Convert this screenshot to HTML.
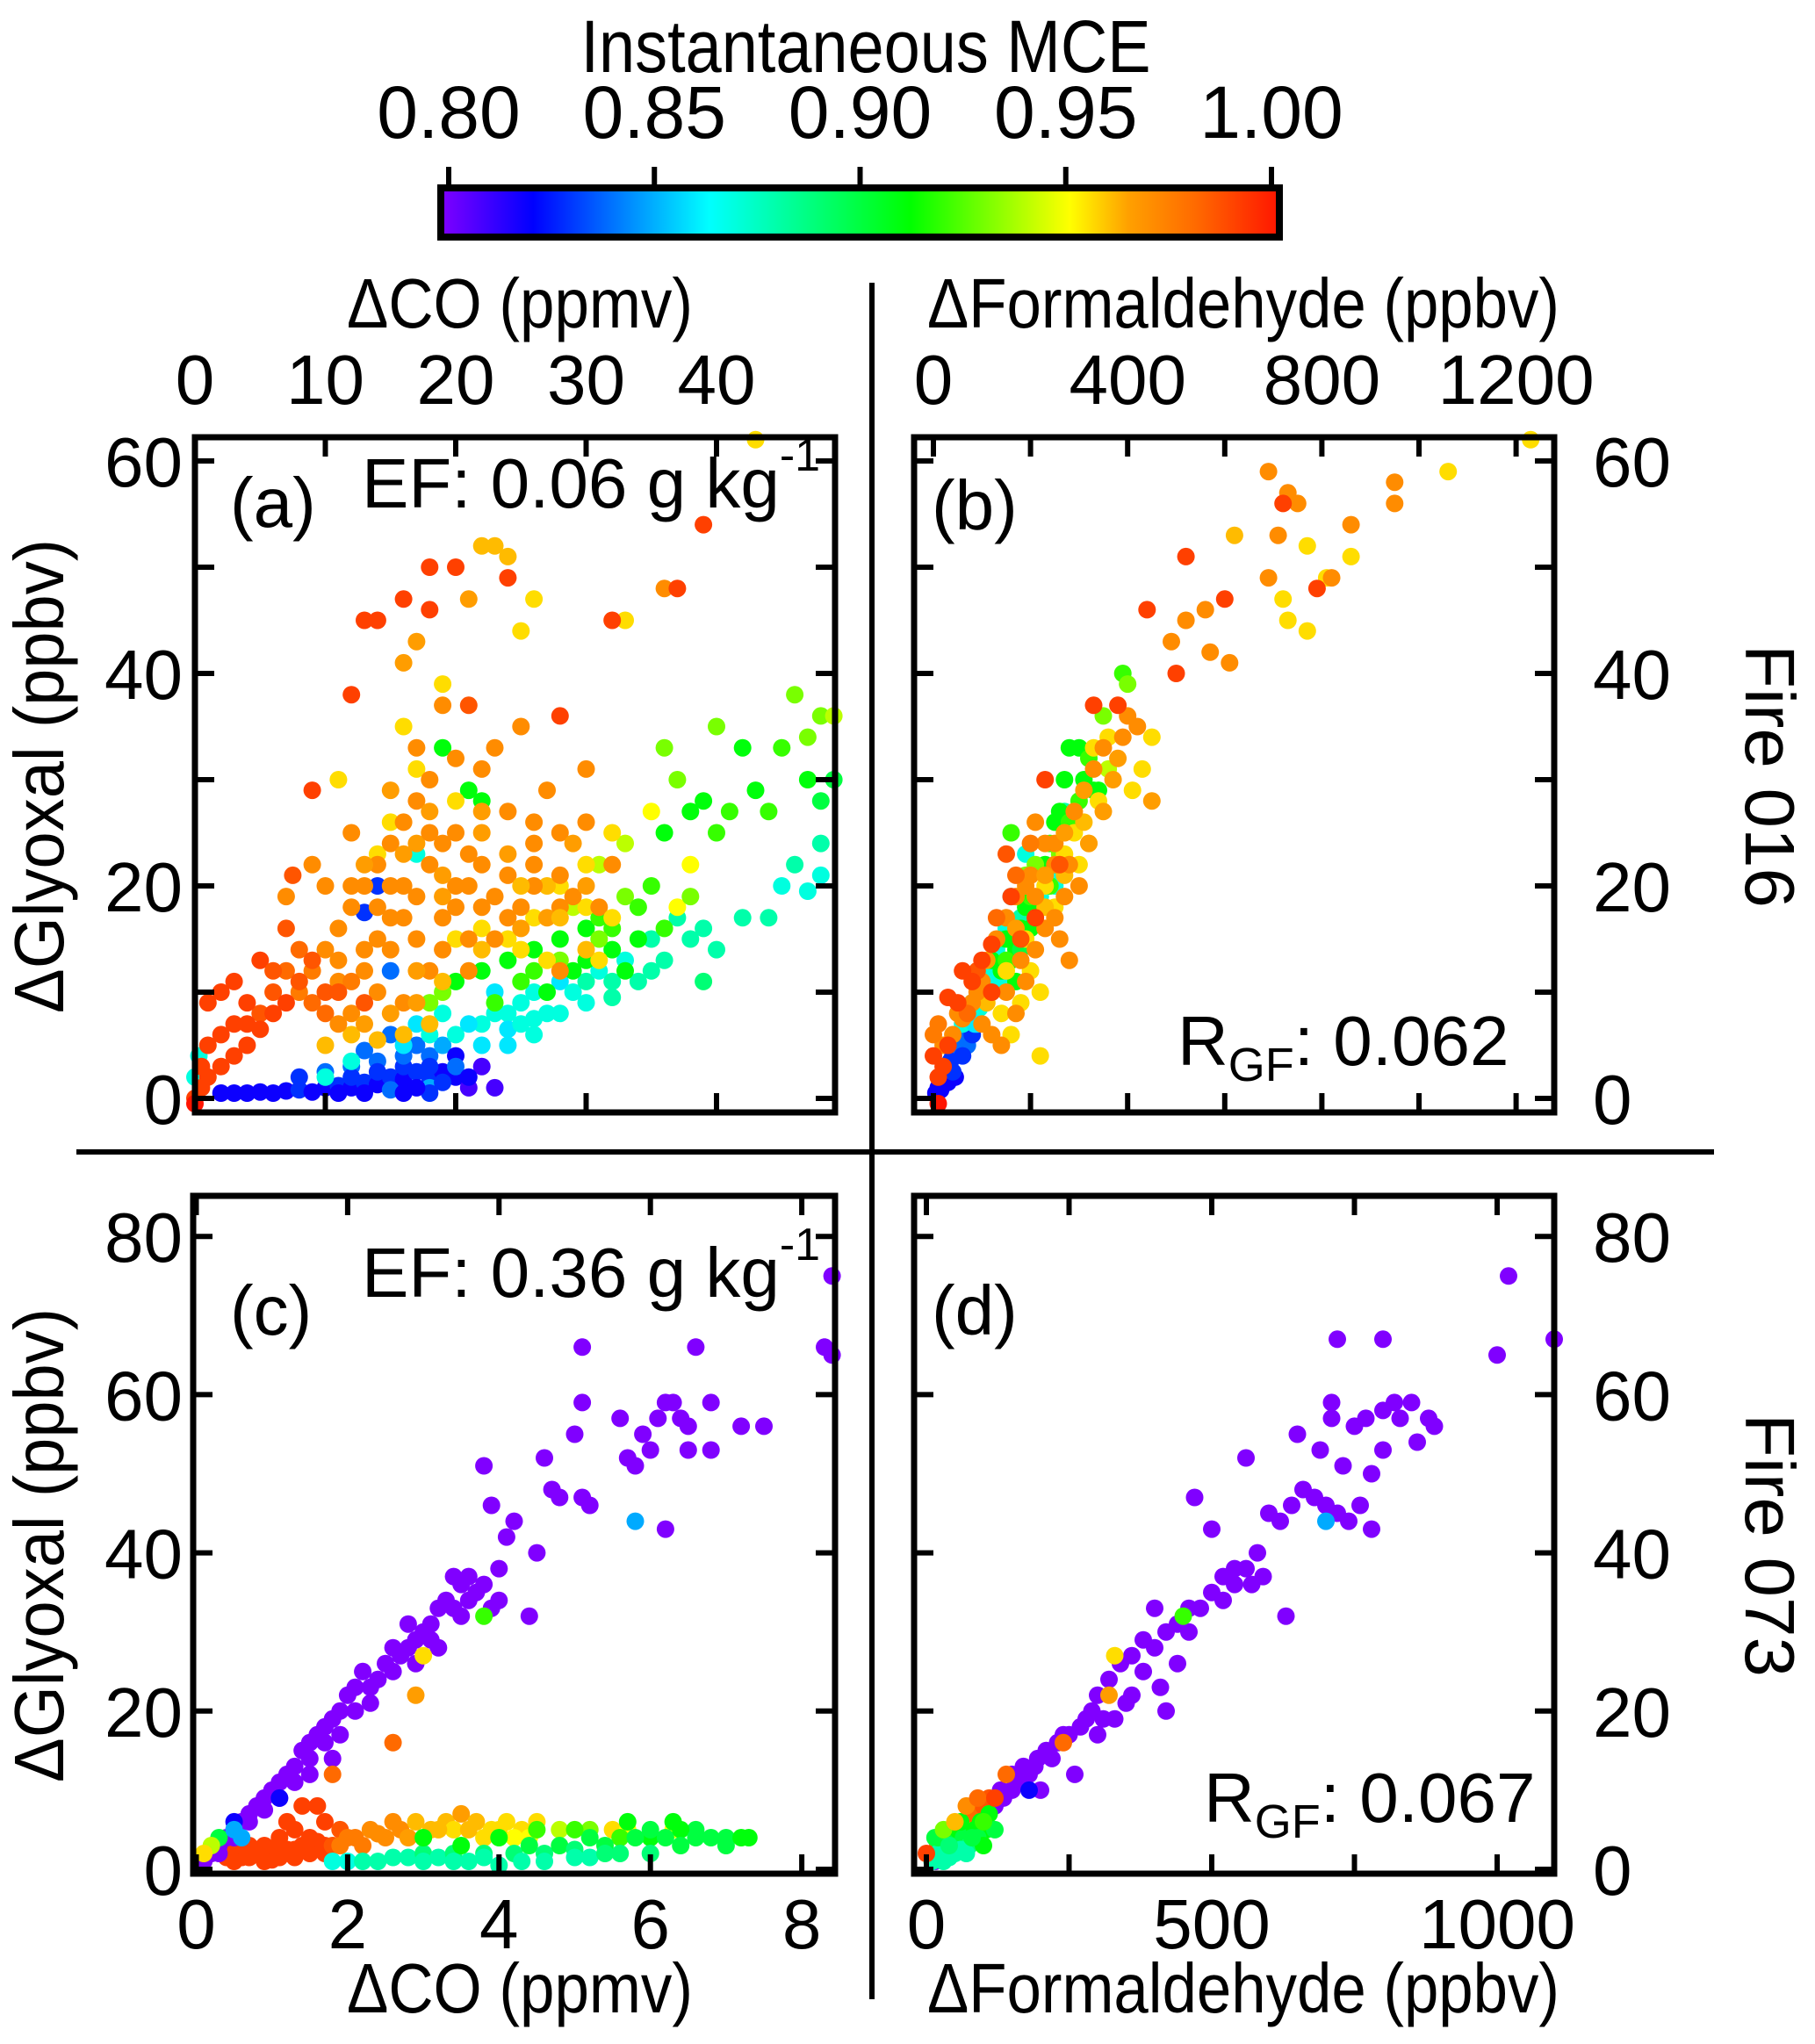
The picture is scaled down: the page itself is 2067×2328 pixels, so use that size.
<!DOCTYPE html>
<html><head><meta charset="utf-8"><title>Glyoxal vs CO and Formaldehyde</title>
<style>
html,body{margin:0;padding:0;background:#fff;}
svg{display:block;}
text{font-family:"Liberation Sans",sans-serif;fill:#000;}
</style></head>
<body>
<svg id="fig" xmlns="http://www.w3.org/2000/svg" width="2067" height="2328" viewBox="0 0 2067 2328">
<defs>
<linearGradient id="mceGrad" x1="0" x2="1" y1="0" y2="0">
<stop offset="0" stop-color="#8000ff"/><stop offset="0.11" stop-color="#0000ff"/><stop offset="0.32" stop-color="#00ffff"/><stop offset="0.56" stop-color="#00ff00"/><stop offset="0.75" stop-color="#ffff00"/><stop offset="0.82" stop-color="#ffa000"/><stop offset="0.9" stop-color="#ff6a00"/><stop offset="1" stop-color="#ff1500"/>
</linearGradient>
</defs>
<g>
<text x="986" y="82" font-size="84" text-anchor="middle" textLength="649" lengthAdjust="spacingAndGlyphs">Instantaneous MCE</text>
<rect x="502" y="214" width="955" height="56" fill="url(#mceGrad)" stroke="#000" stroke-width="8"/>
<g id="cbticks"></g>
</g>
<line x1="993" y1="322" x2="993" y2="2277" stroke="#000" stroke-width="6"/>
<line x1="87" y1="1312" x2="1952" y2="1312" stroke="#000" stroke-width="6"/>
<g id="pa"></g>
<g id="pb"></g>
<g id="pc"></g>
<g id="pd"></g>

<text x="592" y="373" font-size="80" text-anchor="middle" textLength="394" lengthAdjust="spacingAndGlyphs">ΔCO (ppmv)</text>
<text x="1416" y="373" font-size="80" text-anchor="middle" textLength="720" lengthAdjust="spacingAndGlyphs">ΔFormaldehyde (ppbv)</text>
<text x="592" y="2292" font-size="80" text-anchor="middle" textLength="394" lengthAdjust="spacingAndGlyphs">ΔCO (ppmv)</text>
<text x="1416" y="2292" font-size="80" text-anchor="middle" textLength="720" lengthAdjust="spacingAndGlyphs">ΔFormaldehyde (ppbv)</text>
<text transform="translate(72,884) rotate(-90)" font-size="80" text-anchor="middle" textLength="540" lengthAdjust="spacingAndGlyphs">ΔGlyoxal (ppbv)</text>
<text transform="translate(72,1760) rotate(-90)" font-size="80" text-anchor="middle" textLength="540" lengthAdjust="spacingAndGlyphs">ΔGlyoxal (ppbv)</text>
<text transform="translate(1988,884) rotate(90)" font-size="80" text-anchor="middle" textLength="300" lengthAdjust="spacingAndGlyphs">Fire 016</text>
<text transform="translate(1988,1760) rotate(90)" font-size="80" text-anchor="middle" textLength="300" lengthAdjust="spacingAndGlyphs">Fire 073</text>
</svg>
<script>
// ---------- data ----------
const cbTicks = [0.80, 0.85, 0.90, 0.95, 1.00];
const cbLabels = ["0.80", "0.85", "0.90", "0.95", "1.00"];

const aTicksX = [0, 10, 20, 30, 40];
const aTicksY = [0, 10, 20, 30, 40, 50, 60];
const aLabelsY = [0, 20, 40, 60];
const bTicksX = [0, 200, 400, 600, 800, 1000, 1200];
const bLabelsX = [0, 400, 800, 1200];
const cTicksX = [0, 2, 4, 6, 8];
const cTicksY = [0, 20, 40, 60, 80];
const dTicksX = [0, 250, 500, 750, 1000];
const dLabelsX = [0, 500, 1000];

// panel a: [dCO ppmv, dGlyoxal ppbv, MCE]
const aPts = [
[2,0.5,.82],[3,0.5,.82],[4,0.5,.82],[5,0.6,.82],[6,0.5,.82],[7,0.7,.82],[8,0.8,.83],[9,0.6,.82],[10,1,.82],[11,1.2,.83],[12,1,.82],[13,1.5,.83],[14,1.3,.82],[15,2,.83],[16,1.8,.82],[17,2.5,.83],[18,2,.83],[19,2.5,.82],[20,2,.82],[10,2.5,.84],[12,3,.84],[14,3.5,.84],[16,3,.83],[18,4,.84],[13,4.5,.84],[17,5,.84],[19,5,.85],[15,0.8,.84],[18,1,.85],[8,2,.83],[21,1,.81],[23,1,.81],[22,3,.81],[20,4,.82],[15,6,.84],[14,20,.83],[13,17.5,.83],[15,12,.84],
[11,0.5,.82],[13,0.5,.82],[16,0.5,.82],[18,0.5,.83],[12,2,.83],[14,2.5,.83],[16,4,.84],[18,3,.83],[20,3,.84],[17,1,.82],[19,1.5,.83],[21,2,.82],
[16,5,.86],[18,6,.87],[20,6,.87],[22,7,.87],[24,8,.87],[25,9,.87],[27,8,.87],[23,10,.86],[21,7,.86],[26,10,.87],[28,11,.86],[29,10,.87],[30,11,.88],[31,12,.87],[33,13,.87],[19,8,.87],[17,7,.86],[12,3.5,.87],[10,2,.87],[0,2,.87],[0.3,4,.87],[26,7.5,.87],[24,6.5,.86],[35,15,.88],[37,17,.88],[39,16,.88],[40,14,.88],[42,17,.88],[44,17,.88],[45,20,.87],[47,19.5,.87],[46,22,.88],[48,21,.87],[48,24,.88],[39,11,.89],[35,12,.88],[38,15,.88],[17,23,.87],[32,9.5,.88],
[22,5,.86],[24,5,.86],[26,6,.87],[28,8,.87],[30,9,.87],[32,11,.88],[34,11,.88],[36,13,.88],[23,8,.87],[25,7,.87],
[20,11,.91],[22,12,.91],[24,13,.91],[26,14,.91],[28,15,.91],[30,16,.91],[29,12,.91],[32,14,.91],[34,15,.91],[31,17,.92],[25,11,.92],[27,10,.91],[23,9,.92],[33,19,.93],[35,20,.92],[36,25,.91],[38,27,.91],[39,28,.91],[40,25,.92],[41,27,.92],[43,29,.91],[44,27,.92],[42,33,.91],[45,33,.92],[46,38,.93],[48,36,.93],[47,34,.93],[49,36,.94],[47,30,.91],[49,30,.9],[48,28,.9],[37,30,.93],[36,33,.93],[40,35,.93],[29,18,.94],[21,29,.91],[22,28,.91],[19,33,.91],[31,22,.94],[33,24,.94],[35,27,.95],[38,22,.95],[37,18,.95],[18,9,.93],[19,10,.93],
[32,16,.92],[34,18,.92],[30,13,.91],[33,12,.91],[36,16,.92],[38,19,.93],[26,12,.92],[28,13,.93],[31,15,.93],
[24,15,.955],[26,17,.955],[28,20,.955],[30,22,.955],[27,13,.955],[25,14,.955],[31,13,.955],[32,25,.955],[22,16,.955],[20,15,.955],[33,45,.955],[26,47,.955],[25,44,.955],[19,39,.955],[16,35,.955],[14,23,.955],[15,26,.955],[17,31,.955],[20,28,.955],[11,30,.955],[27,20,.96],[30,18,.955],
[8,10,.975],[9,12,.975],[10,14,.97],[11,16,.97],[12,18,.97],[13,20,.97],[14,22,.97],[15,24,.97],[16,26,.97],[17,28,.97],[18,30,.97],[16,20,.97],[18,22,.97],[20,20,.97],[22,22,.97],[24,21,.97],[26,24,.97],[28,25,.97],[30,26,.97],[22,18,.97],[24,17,.97],[26,20,.97],[28,18,.97],[21,15,.97],[19,17,.97],[17,15,.97],[15,17,.97],[13,14,.97],[11,11,.97],[14,10,.97],[12,8,.97],[16,9,.97],[18,12,.97],[20,25,.97],[23,33,.97],[25,35,.97],[22,31,.97],[19,37,.97],[21,47,.965],[16,41,.965],[17,43,.965],[22,52,.96],[23,52,.96],[24,51,.96],[10,5,.96],[12,6,.96],[14,5.5,.96],[16,6,.96],[18,7,.96],[30,31,.97],[32,22,.97],[12,25,.97],[10,20,.97],[9,22,.97],[7,19,.97],[28,12,.97],[36,48,.97],[17,24,.965],[19,19,.965],
[12,20,.97],[13,22,.965],[14,18,.97],[15,20,.97],[16,23,.965],[17,19,.97],[18,25,.97],[19,21,.965],[20,18,.97],[21,20,.97],[22,25,.965],[23,19,.97],[24,23,.965],[25,18,.97],[26,22,.97],[27,17,.965],[28,21,.97],[29,19,.97],[30,20,.965],[31,18,.97],[23,15,.97],[25,16,.965],[21,12,.97],[19,14,.97],[17,12,.965],[15,14,.97],[13,12,.97],[11,13,.97],[9,9,.98],[10,8,.98],[12,11,.975],[14,15,.97],[16,17,.97],[18,27,.965],[20,32,.97],[17,33,.97],[15,29,.965],[19,24,.97],[21,23,.97],[22,27,.965],[24,27,.97],[26,26,.97],[27,29,.97],[29,24,.965],[5,8,.985],[6,10,.985],[7,12,.98],[8,14,.98],[3,7,.99],[4,7,.99],[11,7,.97],[13,7,.965],[15,8,.965],[17,9,.965],[19,11,.96],[22,14,.96],[25,20,.96],[28,17,.96],[30,14,.96],[32,17,.955],
[0,0,.99],[0.5,1,.99],[1,2,.99],[2,3,.99],[3,4,.99],[4,5,.99],[5,6.5,.99],[6,8,.99],[7,9,.99],[8,11,.985],[1,9,.99],[2,10,.99],[3,11,.99],[4,9,.99],[5,13,.99],[7,16,.985],[7.5,21,.985],[9,13,.985],[10,10,.985],[6,12,.985],[2,6,.99],[1,5,.99],[0.5,3,.99],[13,45,.99],[14,45,.99],[16,47,.99],[20,50,.99],[18,50,.99],[12,38,.99],[9,29,.99],[18,46,.99],[24,49,.99],[21,37,.985],[32,45,.99],[28,36,.99],[37,48,.99],[39,54,.99],[11,10,.985],[13,9,.985],[0,-0.5,1.0],
[43,62,.955]
];

// panel b: [dHCHO ppbv, dGlyoxal ppbv, MCE]
const bPts = [
[5,0.5,.82],[10,1,.82],[15,1.5,.82],[20,2,.82],[25,2.5,.83],[30,3,.82],[35,3.5,.83],[40,4,.83],[45,4.5,.83],[50,5,.84],[55,5.5,.84],[60,6,.84],[30,1.5,.82],[45,2,.82],[15,0.8,.82],[70,6,.84],[40,2.5,.83],[70,5,.84],[80,6,.83],[60,4,.83],
[60,7,.87],[80,9,.87],[100,10,.87],[110,12,.87],[130,14,.87],[150,16,.87],[160,19,.87],[190,23,.87],[250,20,.87],[260,21,.87],[220,19,.87],[85,7,.86],[95,8.5,.87],[120,11,.87],[140,15,.88],[270,27,.88],[180,17,.88],[120,10,.87],[140,11,.87],[90,7,.86],
[120,13,.91],[140,12,.91],[150,15,.91],[160,13,.91],[170,14,.91],[180,16,.91],[190,18,.91],[170,11,.91],[200,19,.92],[210,17,.92],[230,22,.91],[240,24,.92],[250,26,.91],[260,27,.91],[270,30,.91],[280,33,.91],[300,33,.91],[320,32,.92],[330,29,.91],[300,28,.92],[160,25,.92],[190,21,.93],[210,22,.93],[390,40,.92],[400,39,.93],[340,29,.91],[360,31,.94],[350,36,.93],[200,16,.91],[220,18,.91],[240,20,.92],[260,23,.93],[280,26,.92],[310,30,.91],[150,13,.92],[180,14,.9],
[230,20,.955],[250,18,.955],[270,23,.955],[290,25,.955],[300,22,.955],[320,24,.955],[340,28,.955],[330,33,.955],[360,34,.955],[200,12,.955],[220,10,.955],[180,9,.955],[140,8,.955],[430,31,.955],[410,29,.955],[450,34,.955],[770,44,.955],[720,47,.955],[730,45,.955],[810,49,.955],[860,51,.955],[770,52,.955],[1060,59,.955],[1230,62,.955],[220,4,.955],[160,6,.955],[110,9,.96],[150,12,.955],[190,15,.955],[230,18,.96],[270,21,.96],[310,26,.96],
[100,7,.97],[120,6,.97],[140,5,.97],[170,8,.97],[190,11,.97],[150,10,.97],[210,14,.97],[230,16,.97],[250,17,.97],[270,19,.97],[280,22,.97],[300,20,.97],[230,24,.97],[250,22,.97],[170,19,.97],[200,21,.97],[180,13,.97],[260,15,.97],[280,13,.97],[320,24,.965],[350,27,.965],[380,32,.965],[400,36,.97],[420,35,.97],[450,28,.965],[490,43,.97],[520,45,.97],[560,46,.97],[570,42,.97],[610,41,.97],[620,53,.96],[710,53,.97],[690,49,.97],[730,57,.97],[750,56,.97],[820,49,.97],[860,54,.97],[950,56,.97],[950,58,.97],[690,59,.97],[100,11,.97],[80,9,.97],[60,7.5,.97],[40,6,.97],[20,5,.97],[0,6,.975],[10,7,.975],[50,8,.97],[210,26,.97],
[90,10,.97],[110,13,.965],[130,15,.97],[150,17,.97],[170,16,.965],[190,20,.97],[210,19,.97],[230,21,.965],[250,24,.97],[270,25,.965],[290,27,.97],[310,29,.965],[330,31,.97],[350,33,.97],[370,30,.965],[390,34,.97],[70,8,.98],[90,12,.985],[130,17,.98],[170,21,.98],[200,24,.975],
[0,4,.99],[10,2,.99],[20,3,.99],[30,5,.99],[50,9,.99],[80,11,.99],[100,13,.99],[120,14.5,.99],[160,19,.99],[210,17,.99],[180,15,.985],[260,22,.985],[330,37,.99],[230,30,.99],[440,46,.99],[520,51,.99],[600,47,.99],[720,56,.99],[790,48,.99],[500,40,.99],[380,37,.99],[120,10,.99],[10,-0.5,1.0],[30,9.5,.99],[60,12,.99],[150,23,.985]
];

// panel c: [dCO ppmv, dGlyoxal ppbv, MCE]
const cPts = [
[0.4,1.5,.99],[0.6,1.5,.99],[0.8,2,.99],[1.0,2,.99],[1.2,2.5,.99],[1.4,3,.99],[1.6,3.5,.99],[0.7,3,.99],[0.9,3,.99],[1.1,4,.99],[1.3,5,.99],[1.5,4,.99],[1.7,3,.99],[1.4,8,.99],[1.6,8,.99],[1.7,6,.99],[1.2,6,.99],[1.9,5,.985],[0.5,2.5,.99],[1.0,1.2,.99],[1.3,1.5,.99],
[0.5,1,.99],[0.7,1.5,.99],[0.9,1,.99],[1.1,1.5,.99],[1.3,2.5,.99],[1.5,2,.99],[1.7,2,.99],[1.8,3,.985],[1.1,3,.99],[0.8,2.5,.99],
[1.9,3,.975],[2.1,4,.975],[2.3,5,.97],[2.5,4,.97],[2.7,5,.97],[2.9,6,.96],[3.1,5,.96],[3.3,6,.96],[3.5,7,.965],[3.7,6,.96],[3.9,5,.955],[4.1,6,.955],[4.3,5,.955],[4.5,6,.955],[2.2,3,.975],[2.6,6,.97],[3.0,4,.965],[3.4,5,.955],[3.8,4,.955],[4.2,4,.95],[5.5,5,.955],[5.7,5,.95],[6.3,5,.95],
[2.0,4,.975],[2.4,4.5,.97],[2.8,4,.965],[3.2,5,.96],[3.6,5,.96],[4.0,5,.955],[4.4,4,.95],[4.8,5,.94],[5.2,5,.93],[5.6,4,.92],[6.0,4,.91],[6.6,5,.9],[7.0,4,.9],
[1.8,1,.87],[2.0,1,.87],[2.4,1,.88],[2.8,1.5,.88],[3.0,2,.89],[3.2,1.5,.88],[3.4,2,.89],[3.6,1,.88],[3.8,2,.89],[4.0,0.5,.88],[4.2,2,.89],[4.4,3,.9],[4.6,2,.89],[4.8,3,.9],[5.0,2.5,.89],[5.2,4,.9],[5.4,3,.9],[5.6,2,.89],[5.8,4,.9],[6.0,5,.9],[6.2,4,.9],[6.4,5,.91],[6.6,4,.9],[6.8,4,.9],[7.0,3,.9],[7.2,4,.91],[7.3,4,.91],[3.0,4,.91],[3.5,3,.91],[4.0,4,.91],[4.5,5,.92],[5.0,5,.92],[5.7,6,.91],[6.3,6,.91],[5.2,1.5,.88],[4.3,1,.88],
[2.2,1,.88],[2.6,1.5,.88],[3.0,1,.88],[3.4,1,.88],[3.8,1.5,.88],[4.6,1,.88],[5.0,1.5,.88],[5.4,2,.89],[6.0,2,.89],[6.4,3,.9],
[0.1,1,.8],[0.2,2,.8],[0.3,3,.8],[0.4,4,.8],[0.5,5,.8],[0.6,6,.8],[0.7,7,.8],[0.8,8,.8],[0.9,9,.8],[1.0,10,.8],[1.1,11,.8],[1.2,12,.8],[1.3,13,.8],[1.4,15,.8],[1.5,16,.8],[1.6,17,.8],[1.7,18,.8],[1.8,19,.8],[1.9,20,.8],[2.0,22,.8],[2.1,23,.8],[2.2,25,.8],[2.4,24,.8],[2.6,25,.8],[2.7,27,.8],[2.8,28,.8],[2.9,29,.8],[3.0,30,.8],[3.1,31,.8],[3.2,33,.8],[3.3,34,.8],[3.4,37,.8],[3.5,36,.8],[3.6,37,.8],[3.7,35,.8],[3.8,36,.8],[3.9,33,.8],[4.0,38,.8],[4.1,42,.8],[4.2,44,.8],[3.9,46,.8],[3.8,51,.8],[4.4,32,.8],[4.5,40,.8],[4.6,52,.8],[4.7,48,.8],[4.8,47,.8],[5.0,55,.8],[5.1,47,.8],[5.2,46,.8],[5.1,59,.8],[5.1,66,.8],[5.6,57,.8],[5.7,52,.8],[5.8,51,.8],[5.9,55,.8],[6.0,53,.8],[6.1,57,.8],[6.2,59,.8],[6.3,59,.8],[6.2,43,.8],[6.4,57,.8],[6.5,56,.8],[6.6,66,.8],[6.5,53,.8],[6.8,59,.8],[6.8,53,.8],[7.2,56,.8],[7.5,56,.8],[8.3,66,.8],[8.4,65,.8],[8.4,75,.8],[2.3,21,.8],[1.8,14,.8],[1.5,12,.8],[2.5,26,.8],[3.2,28,.8],[2.8,31,.8],[4.0,34,.8],[3.5,32,.8],
[0.3,2,.8],[0.5,4,.8],[0.7,6,.8],[0.9,7.5,.8],[1.1,9,.8],[1.3,11,.8],[1.5,14,.8],[1.7,16,.8],[1.9,17,.8],[2.1,20,.8],[2.3,23,.8],[2.6,28,.8],[2.9,26,.8],[3.1,29,.8],[3.4,33,.8],[3.6,34,.8],
[0.5,6,.82],[1.1,9,.82],[5.8,44,.85],[3.8,32,.92],[3.0,27,.955],[2.9,22,.965],[2.6,16,.98],[1.8,12,.98],[0.3,4,.9],[0.2,3,.94],[0.1,2,.955],[0.5,5,.85],[0.6,4,.85]
];

// panel d: [dHCHO ppbv, dGlyoxal ppbv, MCE]
const dPts = [
[15,1,.8],[30,2,.8],[45,3,.8],[60,4,.8],[75,5,.8],[90,6,.8],[105,7,.8],[120,8,.8],[135,9,.8],[150,10,.8],[165,11,.8],[180,12,.8],[195,14,.8],[210,15,.8],[230,16,.8],[250,17,.8],[270,18,.8],[290,20,.8],[300,22,.8],[310,19,.8],[320,24,.8],[340,26,.8],[360,27,.8],[380,29,.8],[400,28,.8],[420,30,.8],[440,31,.8],[460,30,.8],[480,33,.8],[500,35,.8],[520,37,.8],[540,36,.8],[560,38,.8],[580,40,.8],[590,37,.8],[600,45,.8],[620,44,.8],[640,46,.8],[500,43,.8],[470,47,.8],[560,52,.8],[650,55,.8],[660,48,.8],[680,47,.8],[700,46,.8],[720,45,.8],[740,44,.8],[760,46,.8],[780,43,.8],[690,53,.8],[710,57,.8],[710,59,.8],[750,56,.8],[770,57,.8],[800,58,.8],[820,59,.8],[830,57,.8],[850,59,.8],[880,57,.8],[890,56,.8],[860,54,.8],[800,53,.8],[780,50,.8],[730,51,.8],[720,67,.8],[800,67,.8],[1000,65,.8],[1020,75,.8],[1100,67,.8],[630,32,.8],[410,23,.8],[380,25,.8],[350,21,.8],[420,20,.8],[440,26,.8],[260,12,.8],[200,10,.8],[400,33,.8],[360,22,.8],[330,19,.8],
[130,10,.8],[150,12,.8],[170,13,.8],[190,13,.8],[220,14,.8],[240,17,.8],[280,19,.8],[300,17,.8],[460,33,.8],[520,34,.8],[540,38,.8],[570,36,.8],
[700,44,.85],[450,32,.92],[330,27,.955],[320,22,.965],[240,16,.98],[140,12,.98],[180,10,.82],
[10,2,.99],[20,3,.98],[30,4,.98],[40,5,.98],[50,3,.96],[60,5,.955],[70,6,.955],[80,7,.98],[100,8,.985],[110,9,.985],[15,4,.9],[25,3,.9],[35,2,.88],[45,4,.9],[55,5,.91],[65,4,.9],[75,3,.89],[85,5,.91],[95,6,.91],[105,5,.91],[110,7,.91],[20,2,.88],[30,1,.88],[40,1.5,.88],[50,2,.88],[60,2.5,.88],[70,2,.88],[10,1,.88],[0,2,.99],[90,4,.9],[120,5,.9],[100,3,.91],
[20,4,.9],[40,3,.89],[60,6,.91],[80,4,.9],[100,6,.92],[30,5,.93],[50,6,.96],[70,8,.97],[90,9,.98],[120,9,.99]
];

// ---------- rendering ----------
const NS = "http://www.w3.org/2000/svg";
const stops = [[0,[128,0,255]],[0.11,[0,0,255]],[0.32,[0,255,255]],[0.56,[0,255,0]],[0.75,[255,255,0]],[0.82,[255,160,0]],[0.9,[255,106,0]],[1,[255,21,0]]];
function mceColor(m){
  let t = Math.max(0, Math.min(1, (m - 0.8) / 0.2));
  for (let i = 1; i < stops.length; i++){
    if (t <= stops[i][0]){
      const a = stops[i-1], b = stops[i];
      const f = (t - a[0]) / (b[0] - a[0]);
      const c = a[1].map((v, k) => Math.round(v + (b[1][k] - v) * f));
      return "rgb(" + c.join(",") + ")";
    }
  }
  return "rgb(255,21,0)";
}
function mk(tag, attrs, parent){
  const e = document.createElementNS(NS, tag);
  for (const k in attrs) e.setAttribute(k, attrs[k]);
  parent.appendChild(e);
  return e;
}

const cbG = document.getElementById("cbticks");
function cbX(v){ return 511 + (v - 0.8) / 0.2 * (1448 - 511); }
cbTicks.forEach((v, i) => {
  const t = mk("line", {x1: cbX(v), x2: cbX(v), y1: 190, y2: 212, stroke: "#000", "stroke-width": 6}, cbG);
  
  
  const l = mk("text", {x: cbX(v), y: 157, "font-size": 84, "text-anchor": "middle"}, cbG);
  l.textContent = cbLabels[i];
  
  
});

function panel(id, cfg){
  const g = document.getElementById(id);
  const sx = v => cfg.x0 + v * cfg.kx;
  const sy = v => cfg.y0 - v * cfg.ky;
  const pg = mk("g", {}, g);
  
  
  cfg.pts.forEach(p => {
    const c = mk("circle", {cx: sx(p[0]).toFixed(1), cy: sy(p[1]).toFixed(1), r: 10, fill: mceColor(p[2])}, pg);
    
    
  });
  const fr = mk("rect", {x: cfg.L, y: cfg.T, width: cfg.R - cfg.L, height: cfg.B - cfg.T, fill: "none", stroke: "#000", "stroke-width": 7}, g);
  
  
  const tl = 22;
  cfg.xt.forEach(v => {
    const x = sx(v);
    const a = mk("line", {x1: x, x2: x, y1: cfg.T, y2: cfg.T + tl, stroke: "#000", "stroke-width": 6}, g);
    
    
    const b = mk("line", {x1: x, x2: x, y1: cfg.B, y2: cfg.B - tl, stroke: "#000", "stroke-width": 6}, g);
    
    
  });
  cfg.yt.forEach(v => {
    const y = sy(v);
    const a = mk("line", {x1: cfg.L, x2: cfg.L + tl, y1: y, y2: y, stroke: "#000", "stroke-width": 6}, g);
    
    
    const b = mk("line", {x1: cfg.R, x2: cfg.R - tl, y1: y, y2: y, stroke: "#000", "stroke-width": 6}, g);
    
    
  });
  cfg.xl.forEach(v => {
    const t = mk("text", {x: sx(v), y: cfg.xlY, "font-size": 80, "text-anchor": "middle"}, g);
    t.textContent = String(v);
    
    
  });
  cfg.yl.forEach(v => {
    const t = mk("text", {x: cfg.ylX, y: sy(v) + 29, "font-size": 80, "text-anchor": cfg.ylAnchor}, g);
    t.textContent = String(v);
    
    
  });
}

panel("pa", {pts: aPts, x0: 222, kx: 14.85, y0: 1251, ky: 12.1, L: 222, R: 951, T: 498, B: 1267,
  xt: aTicksX, yt: aTicksY, xl: aTicksX, xlY: 460, yl: aLabelsY, ylX: 208, ylAnchor: "end"});
panel("pb", {pts: bPts, x0: 1063, kx: 0.553, y0: 1251, ky: 12.1, L: 1041, R: 1770, T: 498, B: 1267,
  xt: bTicksX, yt: aTicksY, xl: bLabelsX, xlY: 460, yl: aLabelsY, ylX: 1814, ylAnchor: "start"});
panel("pc", {pts: cPts, x0: 223.5, kx: 86.2, y0: 2129, ky: 9.01, L: 220, R: 951, T: 1362, B: 2134,
  xt: cTicksX, yt: cTicksY, xl: cTicksX, xlY: 2219, yl: cTicksY, ylX: 208, ylAnchor: "end"});
panel("pd", {pts: dPts, x0: 1055, kx: 0.65, y0: 2129, ky: 9.01, L: 1041, R: 1770, T: 1362, B: 2134,
  xt: dTicksX, yt: cTicksY, xl: dLabelsX, xlY: 2219, yl: cTicksY, ylX: 1814, ylAnchor: "start"});

const svg = document.getElementById("fig");
function ann(html, x, y, name){
  const t = mk("text", {x: x, y: y, "font-size": 80}, svg);
  t.innerHTML = html;
  
  
}
ann('(a)', 262, 600, 'panel-a-label');
ann('(b)', 1061, 603, 'panel-b-label');
ann('(c)', 262, 1520, 'panel-c-label');
ann('(d)', 1061, 1520, 'panel-d-label');
ann('EF: 0.06 g kg<tspan font-size="52" dy="-42">-1</tspan>', 412, 578, 'panel-a-emission-factor');
ann('EF: 0.36 g kg<tspan font-size="52" dy="-42">-1</tspan>', 412, 1477, 'panel-c-emission-factor');
ann('R<tspan font-size="54" dy="18">GF</tspan><tspan dy="-18">: 0.062</tspan>', 1341, 1213, 'panel-b-ratio');
ann('R<tspan font-size="54" dy="18">GF</tspan><tspan dy="-18">: 0.067</tspan>', 1371, 2075, 'panel-d-ratio');
</script>
</body></html>
